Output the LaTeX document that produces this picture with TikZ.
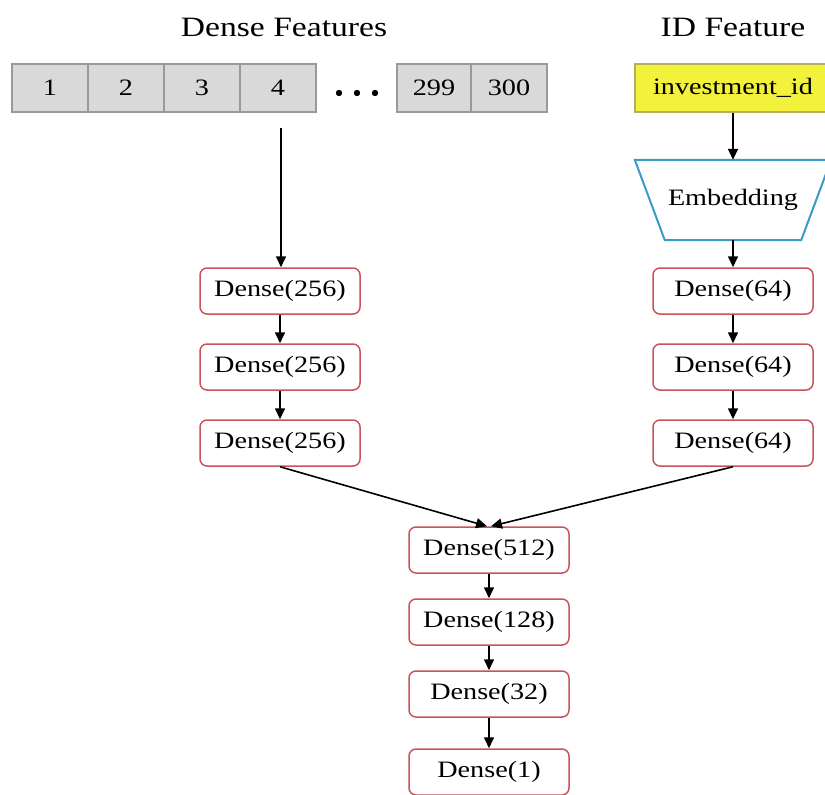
\documentclass[tikz,border=0pt]{standalone}
\usepackage{fontspec}
\setmainfont{Liberation Serif}[FakeStretch=1.2]
\usetikzlibrary{arrows.meta,calc}
\definecolor{cellgray}{HTML}{D9D9D9}
\definecolor{celledge}{HTML}{9A9A9A}
\definecolor{idyellow}{HTML}{F2F23C}
\definecolor{idedge}{HTML}{B5B060}
\definecolor{embblue}{HTML}{3A9AC8}
\definecolor{densered}{HTML}{C8535A}
\tikzset{
  cell/.style={draw=celledge, fill=cellgray, line width=1.5pt, minimum width=76pt, minimum height=48pt, inner sep=0pt, font=\fontsize{23.5}{27}\selectfont},
  idbox/.style={draw=idedge, fill=idyellow, line width=1.5pt, minimum width=196pt, minimum height=48pt, inner sep=0pt, font=\fontsize{23.5}{27}\selectfont},
  layer/.style={draw=densered, fill=white, line width=1.5pt, rounded corners=7pt, minimum width=160pt, minimum height=46pt, inner sep=0pt, font=\fontsize{23.5}{27}\selectfont},
  title/.style={font=\fontsize{28}{32}\selectfont},
  flow/.style={-{Triangle[length=11pt,width=10pt]}, line width=1.6pt, black},
}
\begin{document}
\begin{tikzpicture}[x=1pt,y=-1pt]
\clip (0,0) rectangle (825,795);
\fill[white] (0,0) rectangle (825,795);

% headings
\node[title] (hdense) at (284,27) {Dense Features};
\node[title] (hid) at (733,27) {ID Feature};

% dense feature cells
\node[cell] (c1) at (50,88) {1};
\node[cell] (c2) at (126,88) {2};
\node[cell] (c3) at (202,88) {3};
\node[cell] (c4) at (278,88) {4};
\node[inner sep=0pt] (dots) at (357,93) {\tikz[x=1pt,y=1pt]{\foreach \i in {0,18,36} \fill (\i,0) circle (3.2pt);}};
\node[cell, minimum width=74pt] (c299) at (434,88) {299};
\node[cell] (c300) at (509,88) {300};

% id feature input
\node[idbox] (idin) at (733,88) {investment\_id};

% embedding trapezoid
\node[minimum width=196pt, minimum height=80pt, inner sep=0pt, font=\fontsize{23.5}{27}\selectfont] (emb) at (733,200) {Embedding};
\draw[embblue, line width=2pt, line join=miter]
  (emb.north west) -- (emb.north east) -- ($(emb.south east)+(-30,0)$) -- ($(emb.south west)+(30,0)$) -- cycle;

% dense branch
\coordinate (d0) at (281,128);
\node[layer] (d1) at (280,291) {Dense(256)};
\node[layer] (d2) at (280,367) {Dense(256)};
\node[layer] (d3) at (280,443) {Dense(256)};

% id branch
\node[layer] (e1) at (733,291) {Dense(64)};
\node[layer] (e2) at (733,367) {Dense(64)};
\node[layer] (e3) at (733,443) {Dense(64)};

% merged head
\node[layer] (m1) at (489,550) {Dense(512)};
\node[layer] (m2) at (489,622) {Dense(128)};
\node[layer] (m3) at (489,694) {Dense(32)};
\node[layer] (m4) at (489,772) {Dense(1)};

% connectors
\draw[flow] (d0) -- (d1.north -| d0);
\draw[flow] (d1) -- (d2);
\draw[flow] (d2) -- (d3);
\draw[flow] (idin) -- (emb.north);
\draw[flow] ($(emb.south)$) -- (e1);
\draw[flow] (e1) -- (e2);
\draw[flow] (e2) -- (e3);
\draw[flow] (d3.south) -- ($(m1.north)+(-2,0)$);
\draw[flow] (e3.south) -- ($(m1.north)+(2,0)$);
\draw[flow] (m1) -- (m2);
\draw[flow] (m2) -- (m3);
\draw[flow] (m3) -- (m4);
\end{tikzpicture}
\end{document}
